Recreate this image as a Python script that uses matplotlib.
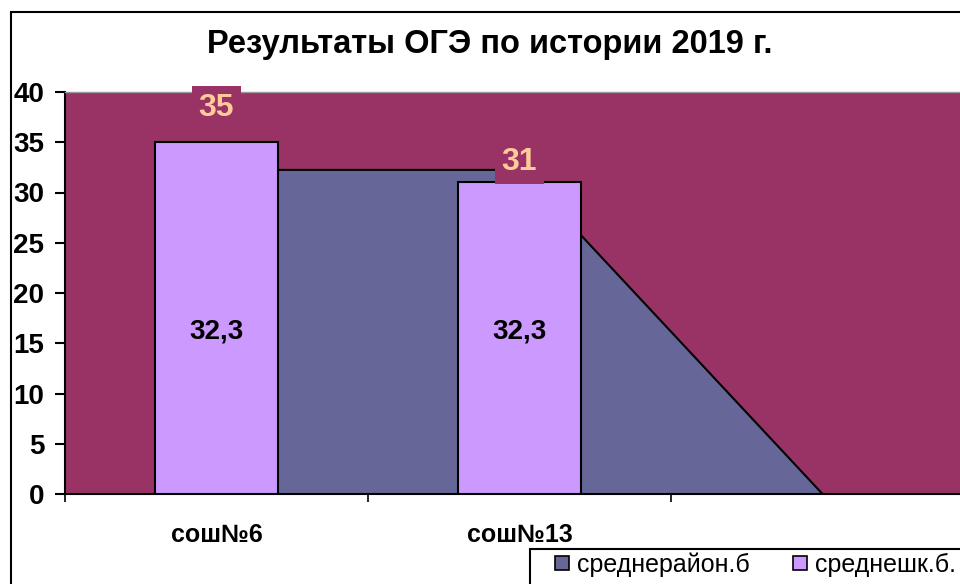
import matplotlib
matplotlib.use("Agg")
import matplotlib.pyplot as plt
from matplotlib.patches import Rectangle
import numpy as np

plt.rcParams['font.family'] = ['Liberation Sans', 'DejaVu Sans']

# ---- data ----
categories = ["сош№6", "сош№13", ""]
school_avg = [35, 31]          # среднешк.б.
district_avg = [32.3, 32.3, 0]  # среднерайон.б
district_labels = ["32,3", "32,3"]
series_names = ["среднерайон.б", "среднешк.б."]
title = "Результаты ОГЭ по истории 2019 г."
yticks = [0, 5, 10, 15, 20, 25, 30, 35, 40]

# ---- style ----
BG = '#993366'
AREA = '#666699'
BAR = '#CC99FF'
LBL = '#FFCC99'

W, H = 960, 584
fig = plt.figure(figsize=(W / 100, H / 100), dpi=100)
fig.patch.set_facecolor('white')

def fx(px):
    return px / W

def fy(py):
    return 1 - py / H

ax = fig.add_axes([fx(65), fy(494), fx(974) - fx(65), fy(92) - fy(494)])
ax.set_facecolor(BG)

x = np.arange(len(categories))
ax.fill_between(x, district_avg, 0, facecolor=AREA, edgecolor='black', linewidth=1.5, zorder=2)
bars = ax.bar(x[:len(school_avg)], school_avg, width=0.405, color=BAR, edgecolor='black',
              linewidth=1.5, zorder=3)

ax.set_xlim(-0.5, 2.5)
ax.set_ylim(0, 40)

# bar value labels (above bars, with background-coloured box)
label_offsets_px = [34, 20]
for b, v, off in zip(bars, school_avg, label_offsets_px):
    ax.annotate(f"{v}", (b.get_x() + b.get_width() / 2, v), xytext=(0, off),
                textcoords='offset pixels', ha='center', va='center',
                fontsize=23, fontweight='bold', color=LBL, zorder=5,
                annotation_clip=False,
                bbox=dict(boxstyle='square,pad=0.22', facecolor=BG, edgecolor='none'))

# area value labels (mid height)
for xi, v, t in zip(x, district_avg, district_labels):
    ax.text(xi, v / 2, t, ha='center', va='center', fontsize=20, fontweight='bold',
            color='black', zorder=6)

# axes styling
ax.set_yticks(yticks)
ax.set_yticklabels([str(t) for t in yticks], fontsize=20, fontweight='bold')
ax.tick_params(axis='y', direction='out', length=7, width=1.5, pad=8)

ax.set_xticks(np.arange(-0.5, 2.6, 1.0))
ax.set_xticklabels([])
ax.tick_params(axis='x', which='major', direction='inout', length=11, width=1.2)
ax.set_xticks(x, minor=True)
ax.set_xticklabels(categories, minor=True, fontsize=18, fontweight='bold')
ax.tick_params(axis='x', which='minor', length=0, pad=21)

for s in ['left', 'bottom']:
    ax.spines[s].set_color('black')
    ax.spines[s].set_linewidth(1.5)
ax.spines['top'].set_color('#999999')
ax.spines['top'].set_linewidth(1)
ax.spines['right'].set_visible(False)

# title
fig.text(fx(490), fy(45), title, ha='center', va='center', fontsize=23.5, fontweight='bold')

# chart border
fig.patches.append(Rectangle((fx(11), fy(700)), 2.0, fy(12) - fy(700), transform=fig.transFigure,
                             facecolor='none', edgecolor='black', linewidth=1.5, zorder=0))

# legend (manual)
fig.patches.append(Rectangle((fx(530), fy(700)), 2.0, fy(549) - fy(700), transform=fig.transFigure,
                             facecolor='white', edgecolor='black', linewidth=1.5, zorder=1))
leg_colors = [AREA, BAR]
leg_x = [555, 793]
for name, c, lx in zip(series_names, leg_colors, leg_x):
    fig.patches.append(Rectangle((fx(lx), fy(570)), fx(14), fy(556) - fy(570),
                                 transform=fig.transFigure, facecolor=c, edgecolor='black',
                                 linewidth=1.2, zorder=2))
    fig.text(fx(lx + 22), fy(565), name, ha='left', va='center', fontsize=18, zorder=3)

fig.savefig('out.png', dpi=100, facecolor='white')
